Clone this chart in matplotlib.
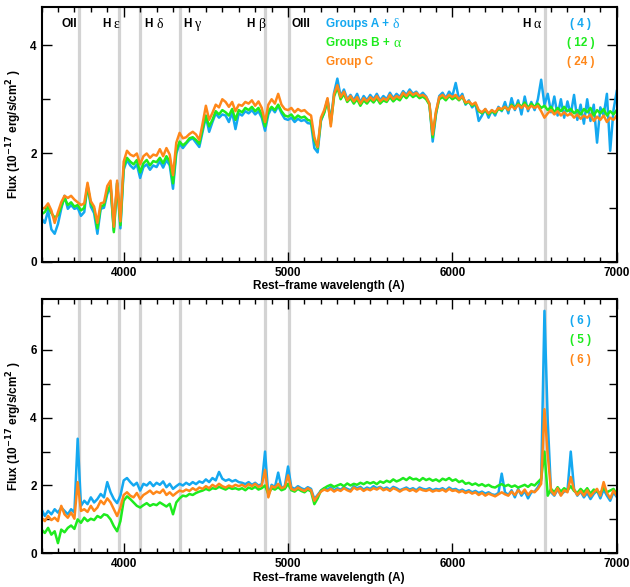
import numpy as np
import matplotlib
matplotlib.use('Agg')
import matplotlib.pyplot as plt
from matplotlib.ticker import MultipleLocator

plt.rcParams['font.family'] = ['Liberation Sans', 'DejaVu Sans']
plt.rcParams['font.weight'] = 'bold'
plt.rcParams['mathtext.fontset'] = 'dejavusans'

# wavelength grid (A), 20 A step
wave = np.arange(3500, 7001, 20)

# top panel
top_blue = [0.80, 0.72, 0.95, 0.60, 0.52, 0.70, 0.98, 1.22, 0.98, 1.05,
            0.98, 1.00, 0.85, 0.92, 1.42, 1.02, 0.90, 0.52, 0.98, 1.00,
            1.25, 1.40, 0.58, 1.46, 0.62, 1.70, 1.88, 1.78, 1.72, 1.80,
            1.55, 1.75, 1.80, 1.70, 1.78, 1.75, 1.86, 1.74, 1.88, 1.78,
            1.35, 2.00, 2.18, 2.10, 2.18, 2.25, 2.28, 2.20, 2.12, 2.40,
            2.68, 2.40, 2.58, 2.74, 2.66, 2.72, 2.70, 2.58, 2.76, 2.45,
            2.74, 2.70, 2.78, 2.74, 2.80, 2.72, 2.78, 2.66, 2.42, 2.72,
            2.84, 2.76, 2.88, 2.74, 2.64, 2.62, 2.66, 2.58, 2.64, 2.60,
            2.62, 2.56, 2.55, 2.10, 2.02, 2.60, 2.76, 3.00, 2.60, 3.12,
            3.38, 3.05, 3.18, 3.00, 3.08, 2.98, 3.10, 2.94, 3.06, 2.98,
            3.08, 3.00, 3.10, 2.98, 3.06, 3.00, 3.12, 3.02, 3.10, 3.04,
            3.15, 3.08, 3.18, 3.10, 3.14, 3.06, 3.12, 3.05, 2.92, 2.22,
            2.72, 3.06, 3.12, 3.02, 3.14, 3.06, 3.30, 3.00, 3.10, 2.90,
            2.98, 2.85, 2.92, 2.60, 2.70, 2.82, 2.66, 2.80, 2.70, 2.86,
            2.78, 2.95, 2.74, 3.02, 2.80, 2.98, 2.72, 3.05, 2.78, 2.95,
            2.80, 3.00, 3.36, 2.90, 3.10, 2.76, 3.05, 2.70, 3.00, 2.66,
            2.96, 2.72, 3.08, 2.62, 2.90, 2.55, 3.00, 2.60, 2.90, 2.20,
            2.85, 2.70, 3.10, 2.05, 2.80, 3.15]
top_green = [0.88, 0.92, 1.02, 0.90, 0.82, 0.86, 1.02, 1.18, 1.05, 1.10,
             1.02, 1.05, 0.95, 1.00, 1.40, 1.08, 0.98, 0.62, 1.02, 1.05,
             1.30, 1.42, 0.55, 1.45, 0.68, 1.75, 1.92, 1.85, 1.80, 1.88,
             1.65, 1.82, 1.88, 1.78, 1.86, 1.84, 1.92, 1.82, 1.95, 1.85,
             1.45, 2.05, 2.22, 2.15, 2.20, 2.28, 2.30, 2.25, 2.18, 2.45,
             2.70, 2.50, 2.62, 2.78, 2.72, 2.80, 2.76, 2.70, 2.82, 2.62,
             2.80, 2.76, 2.84, 2.80, 2.86, 2.78, 2.84, 2.72, 2.50, 2.78,
             2.86, 2.80, 2.90, 2.78, 2.70, 2.68, 2.72, 2.64, 2.70, 2.66,
             2.68, 2.62, 2.60, 2.25, 2.10, 2.62, 2.75, 2.98, 2.55, 3.05,
             3.22, 3.00, 3.10, 2.95, 3.02, 2.92, 3.00, 2.88, 2.98, 2.92,
             3.00, 2.94, 3.02, 2.92, 2.98, 2.95, 3.04, 2.96, 3.02, 2.98,
             3.08, 3.02, 3.10, 3.04, 3.08, 3.02, 3.05, 3.00, 2.90, 2.30,
             2.75, 3.00, 3.04, 2.98, 3.06, 3.00, 3.04, 2.98, 3.05, 2.92,
             2.95, 2.88, 2.92, 2.78, 2.74, 2.80, 2.72, 2.78, 2.74, 2.82,
             2.80, 2.86, 2.80, 2.90, 2.84, 2.92, 2.86, 2.94, 2.84, 2.92,
             2.86, 2.92, 2.84, 2.88, 2.80, 2.86, 2.76, 2.84, 2.78, 2.86,
             2.78, 2.82, 2.74, 2.80, 2.72, 2.82, 2.76, 2.84, 2.70, 2.80,
             2.74, 2.82, 2.70, 2.78, 2.72, 2.80]
top_orange = [0.98, 1.00, 1.08, 0.95, 0.72, 0.92, 1.10, 1.22, 1.18, 1.22,
              1.15, 1.10, 1.05, 1.08, 1.46, 1.12, 1.02, 0.72, 1.08, 1.10,
              1.40, 1.50, 0.65, 1.50, 0.75, 1.85, 2.05, 1.98, 1.95, 2.00,
              1.80, 1.95, 2.00, 1.92, 1.98, 1.96, 2.08, 1.95, 2.10, 1.98,
              1.60, 2.20, 2.38, 2.28, 2.30, 2.36, 2.40, 2.35, 2.25, 2.55,
              2.88, 2.62, 2.75, 2.90, 2.85, 3.00, 2.95, 2.86, 2.95, 2.78,
              2.90, 2.88, 2.95, 2.92, 2.98, 2.88, 2.96, 2.84, 2.58, 2.90,
              3.00, 2.92, 3.10, 2.90, 2.82, 2.80, 2.84, 2.76, 2.82, 2.78,
              2.80, 2.74, 2.70, 2.30, 2.12, 2.66, 2.80, 3.02, 2.50, 3.10,
              3.26, 3.04, 3.14, 2.98, 3.06, 2.96, 3.04, 2.92, 3.02, 2.96,
              3.04, 2.98, 3.06, 2.96, 3.02, 2.98, 3.08, 3.00, 3.06, 3.02,
              3.12, 3.06, 3.14, 3.08, 3.12, 3.06, 3.08, 3.04, 2.92, 2.35,
              2.78, 3.04, 3.08, 3.02, 3.08, 3.04, 3.08, 3.00, 3.06, 2.94,
              2.96, 2.90, 2.94, 2.80, 2.76, 2.82, 2.74, 2.80, 2.76, 2.84,
              2.82, 2.86, 2.80, 2.88, 2.82, 2.90, 2.84, 2.90, 2.82, 2.88,
              2.84, 2.88, 2.78, 2.66, 2.74, 2.80, 2.72, 2.78, 2.70, 2.76,
              2.70, 2.74, 2.66, 2.72, 2.64, 2.70, 2.66, 2.72, 2.60, 2.68,
              2.62, 2.70, 2.58, 2.66, 2.62, 2.70]

# bottom panel
bot_blue = [1.30, 1.10, 1.25, 1.15, 1.30, 1.20, 1.35, 1.25, 1.15, 1.30,
            1.20, 3.38, 1.40, 1.55, 1.45, 1.65, 1.50, 1.60, 1.75, 1.65,
            2.10, 1.80, 1.60, 1.48, 1.70, 2.15, 2.22, 2.10, 2.00, 2.08,
            1.85, 2.05, 2.00, 2.10, 1.98, 2.08, 2.02, 2.12, 1.95, 2.05,
            1.90, 1.98, 2.05, 2.00, 2.08, 2.02, 2.10, 2.04, 2.12, 2.08,
            2.18, 2.10, 2.22, 2.15, 2.40, 2.20, 2.14, 2.18, 2.12, 2.16,
            2.10, 2.08, 2.04, 2.10, 2.02, 2.08, 2.00, 2.04, 3.00, 1.70,
            2.02, 1.95, 2.38, 1.92, 1.98, 2.56, 1.95, 1.90, 1.98, 1.92,
            1.88, 1.95, 1.90, 1.60, 1.72, 1.85, 1.92, 1.88, 1.95, 1.86,
            1.92, 1.88, 1.95, 1.90, 1.86, 1.98, 1.92, 1.96, 1.88, 1.94,
            1.90, 1.98, 1.92, 1.96, 1.90, 1.94, 1.88, 1.96, 1.92, 1.86,
            1.90, 1.94, 1.88, 1.92, 1.86, 1.94, 1.90, 1.88, 1.92, 1.86,
            1.90, 1.88, 1.92, 1.86, 1.94, 1.88, 1.90, 1.84, 1.88, 1.82,
            1.86, 1.80, 1.84, 1.78, 1.82, 1.76, 1.80, 1.74, 1.72, 1.78,
            2.35, 1.80, 1.72, 1.86, 1.65, 1.90, 1.70, 1.84, 1.62, 1.80,
            1.82, 1.95, 2.15, 7.15, 3.90, 1.80, 1.70, 1.88, 1.72, 1.82,
            1.85, 3.00, 1.90, 1.70, 1.82, 1.65, 1.78, 1.60, 1.75, 1.85,
            1.62, 1.88, 1.70, 1.55, 1.80, 1.66]
bot_green = [0.70, 0.60, 0.75, 0.55, 0.65, 0.30, 0.70, 0.62, 0.75, 0.82,
             0.72, 1.00, 0.90, 1.05, 0.95, 1.02, 0.98, 1.10, 1.05, 1.15,
             1.12, 1.00, 0.80, 0.65, 0.95, 1.55, 1.68, 1.60, 1.50, 1.40,
             1.35, 1.42, 1.48, 1.40, 1.45, 1.42, 1.50, 1.44, 1.38, 1.46,
             1.15, 1.50, 1.62, 1.70, 1.68, 1.75, 1.72, 1.78, 1.82, 1.85,
             1.90, 1.86, 1.92, 1.90, 1.96, 1.92, 1.88, 1.94, 1.90, 1.92,
             1.88, 1.92, 1.86, 1.94, 1.90, 1.96, 1.88, 1.92, 2.00, 1.75,
             1.92, 1.88, 1.95, 1.86, 1.90, 2.05, 1.86, 1.82, 1.90, 1.84,
             1.80, 1.88, 1.82, 1.45, 1.62, 1.85, 1.92, 1.98, 2.02, 1.96,
             2.00, 2.04, 1.98, 2.06, 2.00, 2.05, 2.02, 2.08, 2.04, 2.10,
             2.06, 2.10, 2.04, 2.12, 2.08, 2.14, 2.10, 2.18, 2.12, 2.16,
             2.22, 2.16, 2.24, 2.18, 2.20, 2.14, 2.22, 2.16, 2.20, 2.14,
             2.18, 2.12, 2.20, 2.16, 2.22, 2.14, 2.18, 2.10, 2.14, 2.05,
             2.08, 2.02, 2.06, 2.00, 2.04, 1.98, 2.02, 1.96, 1.94, 2.00,
             2.04, 1.98, 2.02, 1.96, 2.00, 1.94, 1.98, 2.02, 1.96, 2.04,
             2.00, 2.10, 2.20, 3.00, 1.70, 1.90, 1.80, 1.95, 1.82, 1.92,
             1.85, 1.98, 1.84, 1.78, 1.90, 1.80, 1.92, 1.76, 1.88, 1.82,
             1.78, 1.92, 1.80, 1.85, 1.90, 1.74]
bot_orange = [1.05, 0.95, 1.10, 0.98, 1.05, 0.95, 1.40, 1.15, 1.05, 1.20,
              1.02, 2.10, 1.25, 1.30, 1.22, 1.40, 1.25, 1.35, 1.55, 1.45,
              1.62, 1.50, 1.30, 1.10, 1.35, 1.72, 1.80, 1.70, 1.65, 1.78,
              1.60, 1.72, 1.78, 1.85, 1.75, 1.82, 1.78, 1.88, 1.72, 1.80,
              1.70, 1.78, 1.85, 1.82, 1.88, 1.84, 1.92, 1.86, 1.94, 1.90,
              1.98, 1.92, 2.02, 1.96, 2.05, 1.98, 1.94, 2.00, 1.96, 2.02,
              1.98, 2.02, 1.96, 2.04, 1.98, 2.05, 1.96, 2.00, 2.46, 1.65,
              1.98, 1.94, 2.05, 1.92, 1.96, 2.30, 1.90, 1.86, 1.94, 1.88,
              1.84, 1.92, 1.86, 1.55, 1.70, 1.82, 1.88, 1.84, 1.90, 1.82,
              1.88, 1.84, 1.92, 1.86, 1.82, 1.94, 1.88, 1.92, 1.84, 1.90,
              1.86, 1.92, 1.88, 1.94, 1.86, 1.90, 1.84, 1.92, 1.88, 1.82,
              1.88, 1.90, 1.84, 1.88, 1.82, 1.90, 1.86, 1.84, 1.88, 1.82,
              1.86, 1.84, 1.88, 1.82, 1.90, 1.84, 1.86, 1.80, 1.84, 1.78,
              1.82, 1.76, 1.80, 1.72, 1.78, 1.70, 1.76, 1.72, 1.68, 1.74,
              1.80, 1.74, 1.70, 1.82, 1.72, 1.86, 1.76, 1.88, 1.72, 1.84,
              1.80, 1.90, 2.05, 4.25, 2.90, 1.85, 1.72, 1.92, 1.70, 1.86,
              1.80, 2.25, 1.88, 1.72, 1.84, 1.70, 1.86, 1.68, 1.80, 1.90,
              1.70, 2.10, 1.78, 1.62, 1.85, 1.70]

line_waves = [3727, 3970, 4102, 4340, 4861, 5007, 6563]
# plain labels (centred) and hydrogen labels (H + greek, left edge)
plain_labels = ['OII', 'OIII']
plain_x = [3667, 5079]
h_greek = ['\u03b5', '\u03b4', '\u03b3', '\u03b2', '\u03b1']
h_x = [3867, 4127, 4364, 4745, 6424]

group_names = ['Groups A +', 'Groups B +', 'Group C']
group_greek = ['\u03b4', '\u03b1', '']
top_counts = ['( 4 )', '( 12 )', '( 24 )']
bot_counts = ['( 6 )', '( 5 )', '( 6 )']
colors = ['#14a8f0', '#1eeb1e', '#ff8719']


def greek_after(ax, t, ch, color):
    # thin serif greek glyph right after a bold text piece
    ax.annotate(ch, xy=(1, 0.5), xycoords=t, xytext=(2.5, 0),
                textcoords='offset points', ha='left', va='center',
                fontsize=10, fontweight='normal', color=color,
                fontfamily=['Liberation Serif', 'DejaVu Serif'])


fig = plt.figure(figsize=(6.3, 5.87), dpi=100)
ax1 = fig.add_axes([0.0659, 0.5537, 0.9131, 0.4343])
ax2 = fig.add_axes([0.0659, 0.0574, 0.9131, 0.4332])

for ax, series, ymax in [(ax1, [top_blue, top_green, top_orange], 4.7),
                         (ax2, [bot_blue, bot_green, bot_orange], 7.5)]:
    for lw in line_waves:
        ax.axvline(lw, color='#d3d3d3', lw=2.3, zorder=1)
    for s, c in zip(series, colors):
        ax.plot(wave, s, color=c, lw=1.8, zorder=2)
    ax.set_xlim(3500, 7000)
    ax.set_ylim(0, ymax)
    ax.xaxis.set_major_locator(MultipleLocator(1000))
    ax.xaxis.set_minor_locator(MultipleLocator(100))
    ax.yaxis.set_major_locator(MultipleLocator(2))
    ax.yaxis.set_minor_locator(MultipleLocator(1))
    ax.tick_params(which='both', direction='in', top=True, right=True,
                   labelsize=8.5, width=1.0)
    ax.tick_params(which='major', length=7)
    ax.tick_params(which='minor', length=3.5)
    ax.tick_params(axis='y', which='minor', length=6)
    for sp in ax.spines.values():
        sp.set_linewidth(1.5)
    for lab in ax.get_xticklabels() + ax.get_yticklabels():
        lab.set_fontweight('bold')
    ax.set_xlabel('Rest\u2013frame wavelength (A)', fontsize=8.5,
                  fontweight='bold', labelpad=1)
    ax.set_ylabel(r'Flux (10$^{-17}$ erg/s/cm$^{2}$ )', fontsize=8.5,
                  fontweight='bold', labelpad=4)

for name, x in zip(plain_labels, plain_x):
    ax1.text(x, 4.38, name, ha='center', va='center', fontsize=8.5,
             fontweight='bold')
for ch, x in zip(h_greek, h_x):
    t = ax1.text(x, 4.38, 'H', ha='left', va='center', fontsize=8.5,
                 fontweight='bold')
    greek_after(ax1, t, ch, 'black')

ys_top = [4.38, 4.03, 3.68]
for name, ch, cnt, c, y in zip(group_names, group_greek, top_counts,
                               colors, ys_top):
    t = ax1.text(5230, y, name, color=c, ha='left', va='center',
                 fontsize=8.5, fontweight='bold')
    if ch:
        greek_after(ax1, t, ch, c)
    ax1.text(6780, y, cnt, color=c, ha='center', va='center', fontsize=8.5,
             fontweight='bold')

ys_bot = [6.85, 6.28, 5.7]
for cnt, c, y in zip(bot_counts, colors, ys_bot):
    ax2.text(6780, y, cnt, color=c, ha='center', va='center', fontsize=8.5,
             fontweight='bold')

fig.savefig('out.png', dpi=100)
